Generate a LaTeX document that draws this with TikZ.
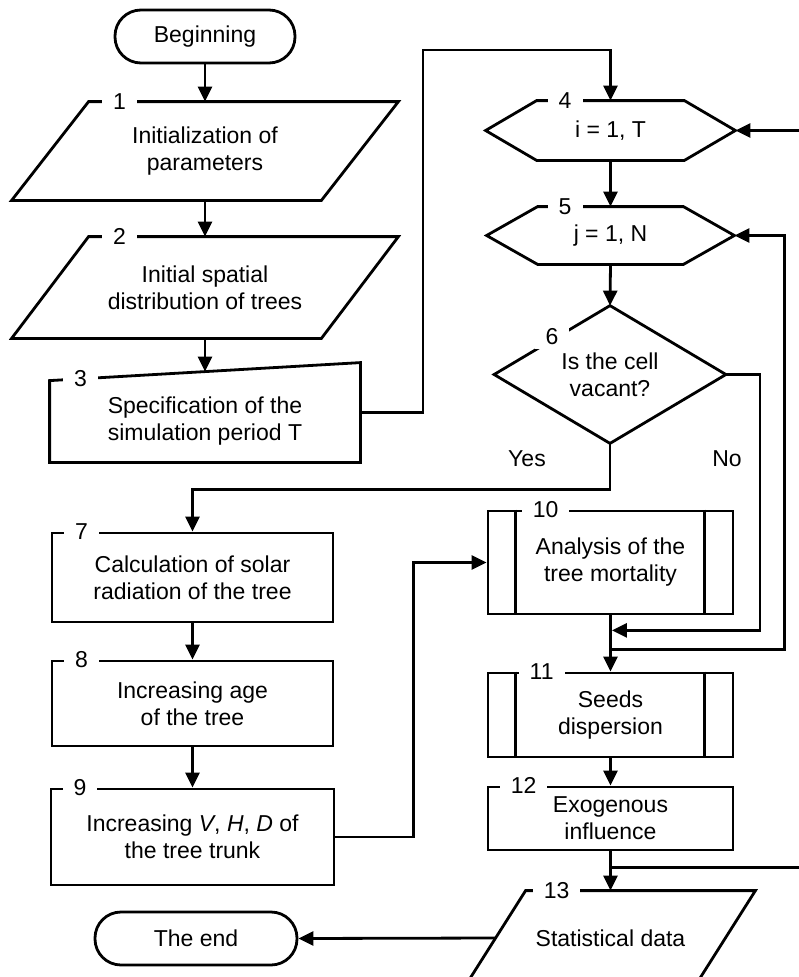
\documentclass[tikz,border=0pt]{standalone}
\usepackage{fontspec}
\setmainfont{Liberation Sans}
\usetikzlibrary{arrows.meta, calc, positioning}

\tikzset{
  base/.style={font=\fontsize{23}{27}\selectfont, align=center, inner sep=0pt},
  term/.style={base, draw, rounded corners=26pt, minimum height=53pt},
  procbox/.style={base, draw, minimum width=245pt},
  body/.style={base, minimum width=#1},
  numlbl/.style={font=\fontsize{23}{27}\selectfont, fill=white, inner xsep=11pt, inner ysep=4pt},
  arrow/.style={-{Triangle[length=15pt,width=14pt]}},
}

\begin{document}
\begin{tikzpicture}[x=1pt, y=-1pt, line width=2.8pt]
    \path[use as bounding box, fill=white] (0,0) rectangle (799,977);
    \clip (0,0) rectangle (799,977);

    % left column
    \node[term, minimum width=180pt] (begin) at (205,36.5) {Beginning};
    \node[body=307pt, minimum height=96pt] (b1) at (205,151) {Initialization of\\parameters};
    \node[body=307pt, minimum height=99pt] (b2) at (205,287.5) {Initial spatial\\distribution of trees};
    \node[body=308pt, minimum height=79pt] (b3) at (205,421.5) {Specification of the\\simulation period T};
    \node[procbox, minimum width=281pt, minimum height=89pt] (b7) at (192.5,577.5) {Calculation of solar\\radiation of the tree};
    \node[procbox, minimum width=281pt, minimum height=85pt] (b8) at (192.5,703.5) {Increasing age\\of the tree};
    \node[procbox, minimum width=283pt, minimum height=96pt] (b9) at (192.5,837) {Increasing \textit{V}, \textit{H}, \textit{D} of\\the tree trunk};
    \node[term, minimum width=202pt] (end) at (196,938.5) {The end};

    % right column
    \node[body=247pt, minimum height=57pt] (b4) at (610.5,130.5) {i = 1, T};
    \node[body=245pt, minimum height=55pt] (b5) at (610.5,235.5) {j = 1, N};
    \node[body=229pt, minimum height=135pt] (b6) at (610,374.5) {Is the cell\\vacant?};
    \node[procbox, minimum height=103pt] (b10) at (610.5,562.5) {Analysis of the\\tree mortality};
    \node[procbox, minimum height=84pt] (b11) at (610.5,715) {Seeds\\dispersion};
    \node[procbox, minimum height=63pt] (b12) at (610.5,818.5) {Exogenous\\influence};
    \node[body=227pt, minimum height=92pt] (b13) at (610.5,938) {Statistical data};

    % outlines
    \foreach \b/\s in {b1/38.5pt, b2/38.5pt, b13/30pt}
        \draw ([xshift=\s]\b.north west) -- ([xshift=\s]\b.north east)
            -- ([xshift=-\s]\b.south east) -- ([xshift=-\s]\b.south west) -- cycle;
    \draw (b3.south west) -- (b3.north west) -- ([yshift=18pt]b3.north east) -- (b3.south east) -- cycle;
    \foreach \b in {b4, b5}
        \draw (\b.west) -- ([xshift=51pt]\b.north west) -- ([xshift=-51pt]\b.north east) -- (\b.east)
            -- ([xshift=-51pt]\b.south east) -- ([xshift=51pt]\b.south west) -- cycle;
    \draw (b6.north) -- (b6.east) -- (b6.south) -- (b6.west) -- cycle;
    \foreach \b in {b10, b11}
        \draw ([xshift=29pt]\b.north west) -- ([xshift=29pt]\b.south west)
              ([xshift=-30pt]\b.north east) -- ([xshift=-30pt]\b.south east);

    % connectors
    \coordinate (top) at (423,50);
    \coordinate (mergeNo) at ($(b10.south)+(1.4,15)$);
    \coordinate (mergeJ) at ($(b10.south)+(0,34)$);
    \coordinate (mergeI) at ($(b12.south)+(0,16)$);
    \draw[arrow] (begin.south) -- (b1.north);
    \draw[arrow] (b1.south) -- (b2.north);
    \draw[arrow] (b2.south) -- ([yshift=9pt]b3.north);
    \draw[arrow] ([yshift=9pt]b3.east) -| (top) -| (b4.north);
    \draw[arrow] (b4.south) -- (b5.north);
    \draw[arrow] (b5.south) -- (b6.north);
    \draw[arrow] (b6.south) -- ++(0,46) -| (b7.north);
    \draw[arrow] (b6.east) -- ++(34,0) |- (mergeNo);
    \draw[arrow] (b7.south) -- (b8.north);
    \draw[arrow] (b8.south) -- (b9.north);
    \draw[arrow] (b9.east) -- ++(78,0) |- (b10.west);
    \draw[arrow] (b10.south) -- (b11.north);
    \draw[arrow] (mergeJ) -| ([xshift=50pt]b5.east) -- (b5.east);
    \draw[arrow] (b11.south) -- (b12.north);
    \draw[arrow] (b12.south) -- (b13.north);
    \draw[arrow] (mergeI) -| ([xshift=80pt]b4.east) -- (b4.east);
    \draw[arrow] (b13.west) -- (end.east);

    \node[base] (yes) at (527,459) {Yes};
    \node[base] (no) at (727,459) {No};

    % block numbers
    \node[numlbl] (n1) at ([xshift=69.5pt]b1.north west) {1};
    \node[numlbl] (n2) at ([xshift=69.5pt]b2.north west) {2};
    \node[numlbl] (n3) at ([xshift=31pt,yshift=1.8pt]b3.north west) {3};
    \node[numlbl] (n4) at ([xshift=79.5pt]b4.north west) {4};
    \node[numlbl] (n5) at ([xshift=78.5pt]b5.north west) {5};
    \node[numlbl] (n6) at ($(b6.north)!0.5!(b6.west)+(0,-3)$) {6};
    \node[numlbl] (n7) at ([xshift=31pt]b7.north west) {7};
    \node[numlbl] (n8) at ([xshift=31pt]b8.north west) {8};
    \node[numlbl] (n9) at ([xshift=30.5pt]b9.north west) {9};
    \node[numlbl] (n10) at ([xshift=59pt]b10.north west) {10};
    \node[numlbl] (n11) at ([xshift=55pt]b11.north west) {11};
    \node[numlbl] (n12) at ([xshift=37pt]b12.north west) {12};
    \node[numlbl] (n13) at ([xshift=61pt]b13.north west) {13};
\end{tikzpicture}
\end{document}
